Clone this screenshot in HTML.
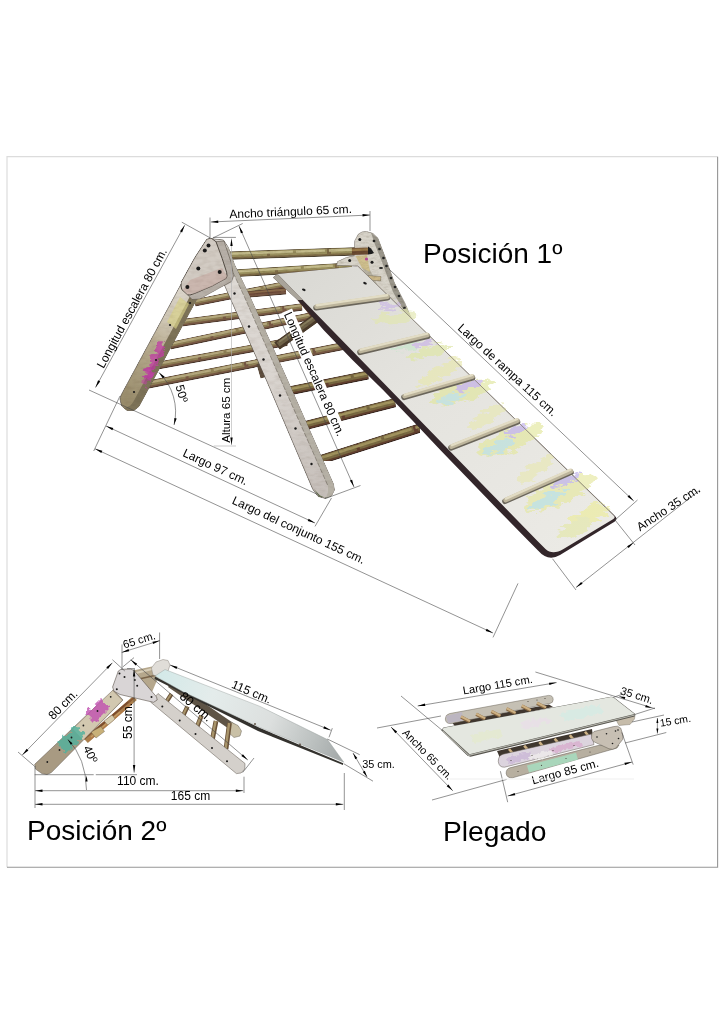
<!DOCTYPE html>
<html><head><meta charset="utf-8"><title>Pikler</title>
<style>
html,body{margin:0;padding:0;background:#fff;}
svg{display:block;}
text{font-family:"Liberation Sans",sans-serif;fill:#000;}
</style></head><body>
<svg width="724" height="1024" viewBox="0 0 724 1024">
<defs>
<linearGradient id="rampg" x1="0" y1="0" x2="1" y2="1">
<stop offset="0" stop-color="#d9d8d3"/><stop offset="0.4" stop-color="#e4e3de"/><stop offset="1" stop-color="#ecebe6"/>
</linearGradient>
<filter id="rough" x="-10%" y="-10%" width="120%" height="120%">
<feTurbulence type="fractalNoise" baseFrequency="0.09 0.25" numOctaves="3" seed="7" result="n"/>
<feDisplacementMap in="SourceGraphic" in2="n" scale="14" xChannelSelector="R" yChannelSelector="G"/>
</filter>
<filter id="rough2" x="-10%" y="-10%" width="120%" height="120%">
<feTurbulence type="fractalNoise" baseFrequency="0.2" numOctaves="2" seed="11" result="n"/>
<feDisplacementMap in="SourceGraphic" in2="n" scale="8" xChannelSelector="R" yChannelSelector="G"/>
</filter>
<linearGradient id="legL" gradientUnits="userSpaceOnUse" x1="188" y1="290" x2="127" y2="405">
<stop offset="0" stop-color="#dcd6cc"/><stop offset="0.28" stop-color="#d0c8b6"/><stop offset="0.5" stop-color="#b7ab8f"/><stop offset="1" stop-color="#988b6a"/>
</linearGradient>
<linearGradient id="ramp2" gradientUnits="userSpaceOnUse" x1="158" y1="672" x2="340" y2="752">
<stop offset="0" stop-color="#d3e9e8"/><stop offset="0.3" stop-color="#e4eceb"/><stop offset="0.62" stop-color="#dcdfde"/><stop offset="0.85" stop-color="#bcc1c0"/><stop offset="1" stop-color="#a6abab"/>
</linearGradient>
<filter id="wood" x="0" y="0" width="100%" height="100%" color-interpolation-filters="sRGB">
<feTurbulence type="fractalNoise" baseFrequency="0.18 0.5" numOctaves="3" seed="5" result="n"/>
<feColorMatrix in="n" type="matrix" values="0 0 0 0 0.78  0 0 0 0 0.76  0 0 0 0 0.72  0.8 0.45 0 0 -0.52" result="tint"/>
<feComposite in="tint" in2="SourceAlpha" operator="in" result="t2"/>
<feBlend in="t2" in2="SourceGraphic" mode="multiply" result="b"/>
<feComposite in="b" in2="SourceAlpha" operator="in"/>
</filter>
<linearGradient id="legR" gradientUnits="userSpaceOnUse" x1="225" y1="250" x2="325" y2="495">
<stop offset="0" stop-color="#dfdbd6"/><stop offset="0.5" stop-color="#dad5d0"/><stop offset="1" stop-color="#c6bfba"/>
</linearGradient>
<filter id="wood2" x="0" y="0" width="100%" height="100%" color-interpolation-filters="sRGB">
<feTurbulence type="fractalNoise" baseFrequency="0.12 0.3" numOctaves="2" seed="9" result="n"/>
<feColorMatrix in="n" type="matrix" values="0 0 0 0 0.8  0 0 0 0 0.77  0 0 0 0 0.74  0.55 0.3 0 0 -0.36" result="tint"/>
<feComposite in="tint" in2="SourceAlpha" operator="in" result="t2"/>
<feBlend in="t2" in2="SourceGraphic" mode="multiply" result="b"/>
<feComposite in="b" in2="SourceAlpha" operator="in"/>
</filter>
</defs>
<rect width="724" height="1024" fill="#fff"/>

<path d="M7,867.3 L7,156.7 L717.6,156.7" fill="none" stroke="#dcdcdc" stroke-width="1.2"/>
<path d="M7,867.3 L717.6,867.3 L717.6,156.7" fill="none" stroke="#969696" stroke-width="1.1"/>
<g id="pos1" filter="url(#wood)">
<line x1="226.0" y1="255.7" x2="367" y2="251" stroke="#4a4030" stroke-width="8.5" stroke-linecap="butt"/>
<line x1="226.0" y1="255.5" x2="367" y2="250.8" stroke="#7d6a46" stroke-width="7.1" stroke-linecap="butt"/>
<line x1="226.0" y1="254.7" x2="367" y2="250.0" stroke="#9a905e" stroke-width="5.10" stroke-linecap="butt" stroke-dasharray="41 3 57 4 23 2"/>
<line x1="226.0" y1="253.89999999999998" x2="367" y2="249.2" stroke="#c4bc8c" stroke-width="2.38" stroke-linecap="butt" stroke-dasharray="67 3 29 4"/>
<line x1="234.0" y1="273.4" x2="352" y2="266.3" stroke="#4a4030" stroke-width="7.9" stroke-linecap="butt"/>
<line x1="234.0" y1="273.2" x2="352" y2="266.1" stroke="#7d6a46" stroke-width="6.5" stroke-linecap="butt"/>
<line x1="234.0" y1="272.4" x2="352" y2="265.3" stroke="#9a905e" stroke-width="4.50" stroke-linecap="butt" stroke-dasharray="41 3 57 4 23 2"/>
<line x1="234.0" y1="271.59999999999997" x2="352" y2="264.5" stroke="#c4bc8c" stroke-width="2.21" stroke-linecap="butt" stroke-dasharray="67 3 29 4"/>
<line x1="194.8" y1="302.9" x2="287" y2="284.5" stroke="#46342a" stroke-width="7.5" stroke-linecap="butt"/>
<line x1="194.8" y1="302.7" x2="287" y2="284.3" stroke="#785844" stroke-width="6.1" stroke-linecap="butt"/>
<line x1="194.8" y1="301.9" x2="287" y2="283.5" stroke="#908156" stroke-width="4.10" stroke-linecap="butt" stroke-dasharray="41 3 57 4 23 2"/>
<line x1="194.8" y1="301.09999999999997" x2="287" y2="282.7" stroke="#b7ab80" stroke-width="2.10" stroke-linecap="butt" stroke-dasharray="67 3 29 4"/>
<line x1="240.0" y1="295.3" x2="286" y2="291.3" stroke="#46342a" stroke-width="6.4" stroke-linecap="butt"/>
<line x1="240.0" y1="295.1" x2="286" y2="291.1" stroke="#785844" stroke-width="5.0" stroke-linecap="butt"/>
<line x1="240.0" y1="294.3" x2="286" y2="290.3" stroke="#6d4a3a" stroke-width="3.00" stroke-linecap="butt" stroke-dasharray="41 3 57 4 23 2"/>
<line x1="240.0" y1="293.5" x2="286" y2="289.5" stroke="#8a6a4a" stroke-width="1.79" stroke-linecap="butt" stroke-dasharray="67 3 29 4"/>
<line x1="182.1" y1="322.8" x2="302" y2="307" stroke="#46342a" stroke-width="7.6000000000000005" stroke-linecap="butt"/>
<line x1="182.1" y1="322.6" x2="302" y2="306.8" stroke="#785844" stroke-width="6.200000000000001" stroke-linecap="butt"/>
<line x1="182.1" y1="321.8" x2="302" y2="306.0" stroke="#908156" stroke-width="4.20" stroke-linecap="butt" stroke-dasharray="41 3 57 4 23 2"/>
<line x1="182.1" y1="321.0" x2="302" y2="305.2" stroke="#b7ab80" stroke-width="2.13" stroke-linecap="butt" stroke-dasharray="67 3 29 4"/>
<line x1="170.1" y1="345.7" x2="311" y2="316" stroke="#46342a" stroke-width="7.7" stroke-linecap="butt"/>
<line x1="170.1" y1="345.5" x2="311" y2="315.8" stroke="#785844" stroke-width="6.300000000000001" stroke-linecap="butt"/>
<line x1="170.1" y1="344.7" x2="311" y2="315.0" stroke="#908156" stroke-width="4.30" stroke-linecap="butt" stroke-dasharray="41 3 57 4 23 2"/>
<line x1="170.1" y1="343.9" x2="311" y2="314.2" stroke="#b7ab80" stroke-width="2.16" stroke-linecap="butt" stroke-dasharray="67 3 29 4"/>
<line x1="157.6" y1="365.6" x2="287" y2="342" stroke="#46342a" stroke-width="7.9" stroke-linecap="butt"/>
<line x1="157.6" y1="365.40000000000003" x2="287" y2="341.8" stroke="#785844" stroke-width="6.5" stroke-linecap="butt"/>
<line x1="157.6" y1="364.6" x2="287" y2="341.0" stroke="#908156" stroke-width="4.50" stroke-linecap="butt" stroke-dasharray="41 3 57 4 23 2"/>
<line x1="157.6" y1="363.8" x2="287" y2="340.2" stroke="#b7ab80" stroke-width="2.21" stroke-linecap="butt" stroke-dasharray="67 3 29 4"/>
<line x1="145.1" y1="385.2" x2="346" y2="345.5" stroke="#46342a" stroke-width="8.1" stroke-linecap="butt"/>
<line x1="145.1" y1="385.0" x2="346" y2="345.3" stroke="#785844" stroke-width="6.699999999999999" stroke-linecap="butt"/>
<line x1="145.1" y1="384.2" x2="346" y2="344.5" stroke="#908156" stroke-width="4.70" stroke-linecap="butt" stroke-dasharray="41 3 57 4 23 2"/>
<line x1="145.1" y1="383.4" x2="346" y2="343.7" stroke="#b7ab80" stroke-width="2.27" stroke-linecap="butt" stroke-dasharray="67 3 29 4"/>
<line x1="285.1" y1="391.7" x2="368" y2="375" stroke="#33241e" stroke-width="9.1" stroke-linecap="butt"/>
<line x1="285.1" y1="391.5" x2="368" y2="374.8" stroke="#63402f" stroke-width="7.699999999999999" stroke-linecap="butt"/>
<line x1="285.1" y1="390.7" x2="368" y2="374.0" stroke="#7a6a42" stroke-width="5.70" stroke-linecap="butt" stroke-dasharray="41 3 57 4 23 2"/>
<line x1="285.1" y1="389.9" x2="368" y2="373.2" stroke="#a39560" stroke-width="2.55" stroke-linecap="butt" stroke-dasharray="67 3 29 4"/>
<line x1="301.7" y1="426.5" x2="395" y2="402.7" stroke="#33241e" stroke-width="9.3" stroke-linecap="butt"/>
<line x1="301.7" y1="426.3" x2="395" y2="402.5" stroke="#63402f" stroke-width="7.9" stroke-linecap="butt"/>
<line x1="301.7" y1="425.5" x2="395" y2="401.7" stroke="#7a6a42" stroke-width="5.90" stroke-linecap="butt" stroke-dasharray="41 3 57 4 23 2"/>
<line x1="301.7" y1="424.7" x2="395" y2="400.9" stroke="#a39560" stroke-width="2.60" stroke-linecap="butt" stroke-dasharray="67 3 29 4"/>
<line x1="317.3" y1="460.8" x2="420" y2="428" stroke="#33241e" stroke-width="9.5" stroke-linecap="butt"/>
<line x1="317.3" y1="460.6" x2="420" y2="427.8" stroke="#63402f" stroke-width="8.1" stroke-linecap="butt"/>
<line x1="317.3" y1="459.8" x2="420" y2="427.0" stroke="#7a6a42" stroke-width="6.10" stroke-linecap="butt" stroke-dasharray="41 3 57 4 23 2"/>
<line x1="317.3" y1="459.0" x2="420" y2="426.2" stroke="#a39560" stroke-width="2.66" stroke-linecap="butt" stroke-dasharray="67 3 29 4"/>
<polygon points="281.0,280.0 287.5,279.5 318.0,312.0 311.0,317.0" fill="#6b4336" stroke="none" stroke-width="0" stroke-linejoin="round" />
<line x1="277" y1="346" x2="316" y2="318" stroke="#4c3c2c" stroke-width="9.5"/>
<line x1="278" y1="344.5" x2="316" y2="317" stroke="#6f6248" stroke-width="5"/>
<line x1="279" y1="342" x2="316" y2="315.5" stroke="#8a8060" stroke-width="1.6"/>
<polygon points="256.5,364.5 262.5,361.5 267.0,377.0 260.5,378.5" fill="#5e4e3e" stroke="none" stroke-width="0" stroke-linejoin="round" />
<polygon points="336.6,265.5 337.4,261.4 346.5,257.3 354.2,255.6 354.6,240.7 358.2,234.1 362.0,231.8 366.4,231.3 373.0,233.3 378.0,238.2 386.3,259.8 394.6,283.0 405.0,302.9 412.0,319.5 380.0,300.0 358.0,266.0" fill="#d8d4ca" stroke="#5b5349" stroke-width="0.6" stroke-linejoin="round" />
<polygon points="371.0,232.5 378.0,238.0 386.3,259.8 394.6,283.0 404.6,302.9 411.5,319.5 404.0,311.0 393.0,292.0 382.0,262.0 374.0,242.0" fill="#9b978c" stroke="none" stroke-width="0" stroke-linejoin="round" />
<circle cx="359.8" cy="239.5" r="1.5" fill="#1a1a1a"/>
<circle cx="349.7" cy="260.5" r="1.5" fill="#1a1a1a"/>
<circle cx="372" cy="262.3" r="1.5" fill="#1a1a1a"/>
<circle cx="374" cy="241" r="1.35" fill="#222"/>
<circle cx="379.5" cy="249" r="1.35" fill="#222"/>
<circle cx="383.5" cy="258" r="1.35" fill="#222"/>
<circle cx="386.5" cy="266" r="1.35" fill="#222"/>
<circle cx="391" cy="278" r="1.35" fill="#222"/>
<circle cx="395" cy="287" r="1.35" fill="#222"/>
<circle cx="399" cy="296" r="1.35" fill="#222"/>
<circle cx="404.5" cy="308" r="1.35" fill="#222"/>
<polygon points="362.0,268.0 368.0,266.0 381.0,292.0 377.0,296.0" fill="#b9b4a4" stroke="none" stroke-width="0" stroke-linejoin="round" />
<polygon points="355.5,256.0 367.0,255.0 370.0,272.0 362.0,268.0" fill="#cfc08e" stroke="none" stroke-width="0" stroke-linejoin="round" />
<circle cx="366.5" cy="259" r="1.6" fill="#b84a9a"/>
<line x1="352" y1="251.5" x2="368" y2="250.9" stroke="#6a4a30" stroke-width="7"/>
<line x1="352" y1="250" x2="368" y2="249.4" stroke="#9a7a48" stroke-width="2.4"/>
<polygon points="368.0,246.5 371.0,248.5 374.0,253.0 371.5,254.0 368.0,254.5" fill="#1c1c1c" stroke="none" stroke-width="0" stroke-linejoin="round" />
<polygon points="368.0,275.5 381.0,276.5 380.5,281.0 370.0,280.0" fill="#cdb98a" stroke="#5b5349" stroke-width="0.4" stroke-linejoin="round" />
</g><g id="pos1ramp">
<path d="M273,277.5 L297.6,300 L323.6,330 L352.5,360 L383.1,390 L412,420 L440.3,450 L469.3,480 L498.2,510 L527.6,540 L538,550.5 Q548,562 560,555 L614.5,521.8 Q618.5,519 614.5,515.5 L358,266.3 L277.5,274 Z" fill="#33262a"/>
<path d="M277.5,274 L358,266.3 L613.5,515.3 Q616,517.6 613,519.2 L563.5,549 Q552.5,555.5 545.5,549 L536.5,540 Z" fill="url(#rampg)"/>
<path d="M273,277.5 L297.6,300 L303,300 L277.5,274 Z" fill="#a9a49a"/>
<g opacity="0.68" filter="url(#rough)">
<ellipse cx="428" cy="352" rx="22.0" ry="5.5" fill="#dfe6a6" transform="rotate(-14 428 352)"/>
<ellipse cx="408" cy="346" rx="15.4" ry="4.4" fill="#c8e6cc" transform="rotate(-12 408 346)"/>
<ellipse cx="424" cy="343" rx="9.9" ry="3.3" fill="#c9b3e6" transform="rotate(-14 424 343)"/>
<ellipse cx="462" cy="392" rx="32.4" ry="9.5" fill="#e1e6a0" transform="rotate(-18 462 392)"/>
<ellipse cx="470" cy="385" rx="12.1" ry="3.9" fill="#c2aee6" transform="rotate(-18 470 385)"/>
<ellipse cx="452" cy="398" rx="15.4" ry="4.4" fill="#b9e2de" transform="rotate(-18 452 398)"/>
<ellipse cx="440" cy="372" rx="24.3" ry="6.8" fill="#e8e8b0" transform="rotate(-30 440 372)"/>
<ellipse cx="510" cy="440" rx="35.1" ry="10.8" fill="#e4e8a0" transform="rotate(-22 510 440)"/>
<ellipse cx="516" cy="430" rx="13.2" ry="4.4" fill="#bfaee8" transform="rotate(-22 516 430)"/>
<ellipse cx="498" cy="447" rx="17.6" ry="5.5" fill="#b8e0dc" transform="rotate(-22 498 447)"/>
<ellipse cx="486" cy="418" rx="21.6" ry="6.8" fill="#e8e8b4" transform="rotate(-35 486 418)"/>
<ellipse cx="560" cy="492" rx="37.8" ry="12.2" fill="#e6e8a2" transform="rotate(-24 560 492)"/>
<ellipse cx="566" cy="480" rx="15.4" ry="5.0" fill="#bcaee8" transform="rotate(-24 566 480)"/>
<ellipse cx="548" cy="500" rx="19.8" ry="5.5" fill="#b6e0de" transform="rotate(-24 548 500)"/>
<ellipse cx="535" cy="470" rx="21.6" ry="6.8" fill="#e8e8b4" transform="rotate(-35 535 470)"/>
<ellipse cx="590" cy="515" rx="21.6" ry="8.1" fill="#ecec9c" transform="rotate(-25 590 515)"/>
<ellipse cx="575" cy="528" rx="18.9" ry="6.8" fill="#e4e8aa" transform="rotate(-25 575 528)"/>
<ellipse cx="395" cy="318" rx="21.6" ry="5.4" fill="#e2e6b0" transform="rotate(-10 395 318)"/>
<ellipse cx="390" cy="306" rx="11.0" ry="3.3" fill="#cbb8e6" transform="rotate(-10 390 306)"/>
</g>
<path d="M358,266.3 L614,515.5" fill="none" stroke="#8e887c" stroke-width="0.8"/>
<line x1="316" y1="307.8" x2="387.5" y2="297.8" stroke="#6a655a" stroke-width="5.6" stroke-linecap="round"/>
<line x1="316.5" y1="306.6" x2="387.5" y2="296.6" stroke="#bdb59c" stroke-width="4.6" stroke-linecap="round"/>
<line x1="317" y1="305.2" x2="387.0" y2="295.2" stroke="#e2dcc4" stroke-width="2.4" stroke-linecap="round"/>
<line x1="360" y1="352.3" x2="427.5" y2="336.3" stroke="#6a655a" stroke-width="5.6" stroke-linecap="round"/>
<line x1="360.5" y1="351.1" x2="427.5" y2="335.1" stroke="#bdb59c" stroke-width="4.6" stroke-linecap="round"/>
<line x1="361" y1="349.7" x2="427.0" y2="333.7" stroke="#e2dcc4" stroke-width="2.4" stroke-linecap="round"/>
<line x1="404" y1="397.3" x2="472.5" y2="377.8" stroke="#6a655a" stroke-width="5.6" stroke-linecap="round"/>
<line x1="404.5" y1="396.1" x2="472.5" y2="376.6" stroke="#bdb59c" stroke-width="4.6" stroke-linecap="round"/>
<line x1="405" y1="394.7" x2="472.0" y2="375.2" stroke="#e2dcc4" stroke-width="2.4" stroke-linecap="round"/>
<line x1="451" y1="447.8" x2="517.5" y2="421.8" stroke="#6a655a" stroke-width="5.6" stroke-linecap="round"/>
<line x1="451.5" y1="446.6" x2="517.5" y2="420.6" stroke="#bdb59c" stroke-width="4.6" stroke-linecap="round"/>
<line x1="452" y1="445.2" x2="517.0" y2="419.2" stroke="#e2dcc4" stroke-width="2.4" stroke-linecap="round"/>
<line x1="505" y1="501.3" x2="571" y2="472.3" stroke="#6a655a" stroke-width="5.6" stroke-linecap="round"/>
<line x1="505.5" y1="500.1" x2="571" y2="471.1" stroke="#bdb59c" stroke-width="4.6" stroke-linecap="round"/>
<line x1="506" y1="498.7" x2="570.5" y2="469.7" stroke="#e2dcc4" stroke-width="2.4" stroke-linecap="round"/>
<ellipse cx="303.8" cy="289.8" rx="1.9" ry="1.1" fill="#1c1c1c" transform="rotate(25 303.8 289.8)"/>
<ellipse cx="365" cy="283.2" rx="1.9" ry="1.1" fill="#1c1c1c" transform="rotate(25 365 283.2)"/>
<ellipse cx="381" cy="268" rx="2" ry="0.9" fill="#222"/>
</g><g id="pos1b" filter="url(#wood2)">
<polygon points="211.6,238.6 223.5,239.9 228.4,247.3 234.6,264.7 249.6,295.8 287.5,380.0 333.5,484.0 334.5,490.0 331.5,496.0 325.0,498.5 318.0,496.5 312.5,489.0 266.2,380.0 224.7,286.0 214.0,260.0" fill="url(#legR)" stroke="#4f4840" stroke-width="0.8" stroke-linejoin="round" />
<polygon points="228.4,247.3 234.6,264.7 249.6,295.8 287.5,380.0 333.5,484.0 334.5,490.0 331.5,496.0 326.0,498.0 328.0,492.0 328.0,486.0 281.5,381.5 244.5,297.0 230.0,266.0 225.0,248.0" fill="#b6b1a6" stroke="none" stroke-width="0" stroke-linejoin="round" />
<path d="M225,248 L230,266 L244.5,297 L281.5,381.5 L328,486" fill="none" stroke="#6d675c" stroke-width="0.6" stroke-dasharray="5 1.5"/>
<polygon points="314.0,489.0 320.0,495.5 326.0,498.0 331.0,496.0 327.0,497.5 319.0,496.8" fill="#5f6a4a" stroke="none" stroke-width="0" stroke-linejoin="round" />
<circle cx="234.5" cy="293.5" r="1.2" fill="#1a1a1a"/>
<circle cx="249" cy="326.5" r="1.2" fill="#1a1a1a"/>
<circle cx="263.5" cy="359.5" r="1.2" fill="#1a1a1a"/>
<circle cx="280" cy="395.5" r="1.2" fill="#1a1a1a"/>
<circle cx="295.5" cy="428.5" r="1.2" fill="#1a1a1a"/>
<circle cx="311.5" cy="464" r="1.2" fill="#1a1a1a"/>
<polygon points="181.0,284.0 197.5,298.0 139.0,406.5 134.0,410.5 127.0,410.5 121.5,406.0 119.8,399.0 121.0,395.0" fill="url(#legL)" stroke="#4f4840" stroke-width="0.8" stroke-linejoin="round" />
<polygon points="191.5,293.5 197.5,298.0 139.0,406.5 134.0,410.5 127.0,410.5 124.0,408.5 130.5,405.5 133.5,401.5" fill="#7d7358" stroke="none" stroke-width="0" stroke-linejoin="round" />
<polygon points="180.0,297.0 189.0,304.0 176.0,329.0 167.0,322.0" fill="#d9d28a" stroke="none" stroke-width="0" stroke-linejoin="round" opacity="0.7"/>
<g filter="url(#rough)">
<polygon points="160.0,342.0 166.0,347.0 150.0,378.0 144.0,373.0" fill="#c13ea6" stroke="none" stroke-width="0" stroke-linejoin="round" opacity="0.75"/>
<polygon points="150.0,366.0 155.0,370.0 146.0,388.0 141.0,384.0" fill="#c13ea6" stroke="none" stroke-width="0" stroke-linejoin="round" opacity="0.55"/>
</g>
<circle cx="190" cy="303" r="1.1" fill="#1a1a1a"/>
<circle cx="170" cy="325" r="1.1" fill="#1a1a1a"/>
<circle cx="156" cy="360" r="1.1" fill="#1a1a1a"/>
<circle cx="134" cy="392" r="1.1" fill="#1a1a1a"/>
<polygon points="216.0,241.7 224.0,241.0 231.0,262.0 233.5,276.0 231.5,281.5 200.0,299.0 192.0,299.5 187.4,294.6 226.0,278.4" fill="#b7b0a8" stroke="#5b5349" stroke-width="0.6" stroke-linejoin="round" />
<polygon points="206.7,239.2 211.0,238.0 216.0,241.7 222.2,258.5 226.6,272.2 227.0,276.0 226.0,278.4 212.3,285.9 194.9,293.3 190.0,295.0 187.4,294.6 181.8,289.6 181.0,286.0 181.2,282.1 194.9,257.3" fill="#d2cbc3" stroke="#453e37" stroke-width="0.9" stroke-linejoin="round" />
<polygon points="190.0,280.0 222.0,268.0 227.0,276.0 226.0,278.4 212.3,285.9 194.9,293.3 187.4,294.6 183.0,290.0" fill="#c8aea6" stroke="none" stroke-width="0" stroke-linejoin="round" opacity="0.7"/>
<circle cx="208.5" cy="245.5" r="2.0" fill="#1a1a1a"/>
<circle cx="204.8" cy="250.4" r="2.0" fill="#1a1a1a"/>
<circle cx="198.3" cy="268.5" r="2.0" fill="#1a1a1a"/>
<circle cx="219.7" cy="272" r="2.0" fill="#1a1a1a"/>
<circle cx="187.4" cy="287.1" r="2.0" fill="#1a1a1a"/>
</g>
<g id="dim1">
<line x1="210.8" y1="222" x2="370" y2="215" stroke="#4a4a4a" stroke-width="0.6" />
<polygon points="210.8,222.0 218.2,220.5 218.3,222.9" fill="#000"/>
<polygon points="370.0,215.0 362.6,216.5 362.5,214.1" fill="#000"/>
<line x1="210" y1="217.5" x2="210" y2="238.5" stroke="#4a4a4a" stroke-width="0.6" />
<line x1="370" y1="211" x2="370" y2="231" stroke="#4a4a4a" stroke-width="0.6" />
<text x="229.5" y="218.3" font-size="12" text-anchor="start" transform="rotate(-2.5 229.5 218.3)" >Ancho triángulo 65 cm.</text>
<line x1="181.8" y1="222.2" x2="210.4" y2="238" stroke="#4a4a4a" stroke-width="0.6" />
<line x1="212.9" y1="238" x2="242.7" y2="223.5" stroke="#4a4a4a" stroke-width="0.6" />
<line x1="212.9" y1="237.4" x2="235.9" y2="237.4" stroke="#4a4a4a" stroke-width="0.6" />
<line x1="184.7" y1="225.2" x2="95.5" y2="387.5" stroke="#4a4a4a" stroke-width="0.6" />
<polygon points="184.7,225.2 182.1,232.4 180.0,231.2" fill="#000"/>
<polygon points="95.5,387.5 98.1,380.3 100.2,381.5" fill="#000"/>
<text x="103.5" y="369" font-size="12" text-anchor="start" transform="rotate(-61.6 103.5 369)" >Longitud escalera 80 cm.</text>
<line x1="231.5" y1="238.6" x2="231.5" y2="445" stroke="#b0b0b0" stroke-width="0.6" />
<polygon points="231.5,238.6 232.7,246.1 230.3,246.1" fill="#000"/>
<polygon points="231.5,445.0 230.3,437.5 232.7,437.5" fill="#000"/>
<line x1="213.8" y1="446" x2="236" y2="446" stroke="#b5b5b5" stroke-width="0.7" />
<text x="230.4" y="442.8" font-size="11.6" text-anchor="start" transform="rotate(-90 230.4 442.8)" >Altura 65 cm</text>
<line x1="239" y1="226" x2="354" y2="487" stroke="#4a4a4a" stroke-width="0.6" />
<polygon points="239.0,226.0 243.1,232.4 240.9,233.3" fill="#000"/>
<polygon points="354.0,487.0 349.9,480.6 352.1,479.7" fill="#000"/>
<line x1="325" y1="498.7" x2="360.5" y2="485.5" stroke="#4a4a4a" stroke-width="0.6" />
<g transform="rotate(66.3 283.7 314.3)"><rect x="281.7" y="304.3" width="138" height="11.5" fill="#fff"/></g>
<text x="283.7" y="314.3" font-size="12" text-anchor="start" transform="rotate(66.3 283.7 314.3)" >Longitud escalera 80 cm.</text>
<line x1="89" y1="390" x2="317.5" y2="494.4" stroke="#4a4a4a" stroke-width="0.6" />
<line x1="106" y1="426" x2="315" y2="523" stroke="#4a4a4a" stroke-width="0.6" />
<polygon points="106.0,426.0 113.3,428.1 112.3,430.2" fill="#000"/>
<polygon points="315.0,523.0 307.7,520.9 308.7,518.8" fill="#000"/>
<line x1="120" y1="396" x2="93.7" y2="451" stroke="#4a4a4a" stroke-width="0.6" />
<line x1="331.5" y1="498" x2="315" y2="526.4" stroke="#4a4a4a" stroke-width="0.6" />
<text x="182" y="455.8" font-size="12" text-anchor="start" transform="rotate(24.9 182 455.8)" >Largo 97 cm.</text>
<line x1="95" y1="448.75" x2="493" y2="633" stroke="#4a4a4a" stroke-width="0.6" />
<polygon points="95.0,448.8 102.3,450.8 101.3,453.0" fill="#000"/>
<polygon points="493.0,633.0 485.7,630.9 486.7,628.8" fill="#000"/>
<line x1="518" y1="583.4" x2="493" y2="637.4" stroke="#4a4a4a" stroke-width="0.6" />
<text x="231.3" y="503.3" font-size="12" text-anchor="start" transform="rotate(24.84 231.3 503.3)" >Largo del conjunto 155 cm.</text>
<path d="M159,372.5 A55,55 0 0 1 174,425" fill="none" stroke="#4a4a4a" stroke-width="0.6"/>
<polygon points="159.0,372.5 164.7,376.7 162.8,378.5" fill="#000"/>
<polygon points="174.0,425.0 174.4,417.9 176.7,418.4" fill="#000"/>
<text x="175.5" y="386" font-size="12" text-anchor="start" transform="rotate(75 175.5 386)" >50º</text>
<line x1="388.8" y1="268.9" x2="633.75" y2="501" stroke="#4a4a4a" stroke-width="0.6" />
<polygon points="633.8,501.0 627.5,496.7 629.1,495.0" fill="#000"/>
<line x1="615" y1="520" x2="637.5" y2="500" stroke="#4a4a4a" stroke-width="0.6" />
<text x="457" y="329" font-size="12" text-anchor="start" transform="rotate(42.6 457 329)" >Largo de rampa 115 cm.</text>
<line x1="576" y1="587.5" x2="700" y2="490" stroke="#4a4a4a" stroke-width="0.6" />
<polygon points="576.0,587.5 581.1,581.9 582.6,583.8" fill="#000"/>
<polygon points="633.8,542.5 628.6,548.1 627.1,546.2" fill="#000"/>
<line x1="552.5" y1="558.75" x2="576" y2="590" stroke="#4a4a4a" stroke-width="0.6" />
<line x1="615" y1="520" x2="635" y2="545" stroke="#4a4a4a" stroke-width="0.6" />
<text x="640" y="531.5" font-size="12" text-anchor="start" transform="rotate(-33.3 640 531.5)" >Ancho 35 cm.</text>
</g>
<text x="423" y="263" font-size="28" text-anchor="start" transform="rotate(0 423 263)" >Posición 1º</text>
<g id="pos2">
<line x1="86" y1="741" x2="135" y2="698" stroke="#a8804f" stroke-width="5.5"/>
<line x1="84" y1="739" x2="136" y2="696" stroke="#8a5a34" stroke-width="2.2"/>
<line x1="88" y1="741" x2="132" y2="703" stroke="#b07a48" stroke-width="1.8"/>
<line x1="95" y1="731" x2="128" y2="702" stroke="#7a4a2c" stroke-width="1.6"/>
<line x1="91" y1="737" x2="120" y2="712" stroke="#c49a62" stroke-width="1.4"/>
<polygon points="91.0,732.0 101.0,726.5 104.5,731.5 96.0,738.0" fill="#c8b078" stroke="#5b5349" stroke-width="0.4" stroke-linejoin="round" />
<polygon points="104.0,721.0 112.0,715.0 115.0,719.0 108.0,725.0" fill="#d8ceb0" stroke="#5b5349" stroke-width="0.3" stroke-linejoin="round" />
<polygon points="133.0,670.5 152.0,666.5 159.0,676.0 152.0,692.0 141.0,681.0" fill="#b5a78c" stroke="none" stroke-width="0" stroke-linejoin="round" />
<line x1="136" y1="673" x2="156" y2="668" stroke="#d8ceb8" stroke-width="2.2"/>
<line x1="139" y1="679" x2="157" y2="675" stroke="#7a644a" stroke-width="1.6"/>
<polygon points="151.4,668.0 156.0,662.0 163.0,659.5 168.0,660.5 170.0,665.0 168.0,671.0 160.0,677.0 153.0,675.0" fill="#e0ddd8" stroke="#8a857c" stroke-width="0.5" stroke-linejoin="round" />
<line x1="170" y1="684" x2="237" y2="730" stroke="#5e5446" stroke-width="7"/>
<polygon points="231.0,722.0 238.0,725.5 241.5,731.0 240.0,736.0 234.0,737.5 229.0,733.0" fill="#c9c0a6" stroke="#6a6458" stroke-width="0.5" stroke-linejoin="round" />
<line x1="171.5" y1="694" x2="167" y2="701" stroke="#6a5238" stroke-width="4.2"/>
<line x1="171.1" y1="694" x2="166.6" y2="701" stroke="#a8946a" stroke-width="1.8000000000000003"/>
<line x1="187.5" y1="706.5" x2="182.5" y2="717" stroke="#6a5238" stroke-width="4.4"/>
<line x1="187.1" y1="706.5" x2="182.1" y2="717" stroke="#a8946a" stroke-width="2.0"/>
<line x1="201.5" y1="715.5" x2="197" y2="727" stroke="#6a5238" stroke-width="4.6"/>
<line x1="201.1" y1="715.5" x2="196.6" y2="727" stroke="#a8946a" stroke-width="2.2"/>
<line x1="216" y1="721" x2="211.5" y2="744" stroke="#6a5238" stroke-width="4.8"/>
<line x1="215.6" y1="721" x2="211.1" y2="744" stroke="#a8946a" stroke-width="2.4"/>
<line x1="229.5" y1="723" x2="226" y2="749" stroke="#6a5238" stroke-width="4.8"/>
<line x1="229.1" y1="723" x2="225.6" y2="749" stroke="#a8946a" stroke-width="2.4"/>
<polygon points="155.0,676.5 260.0,728.0 343.2,763.3 343.0,765.0 258.0,731.0 154.5,679.0" fill="#34322e" stroke="none" stroke-width="0" stroke-linejoin="round" />
<polygon points="155.0,676.0 165.0,669.5 260.0,706.4 327.5,739.6 343.8,762.2 260.0,727.5 183.0,691.8" fill="url(#ramp2)" stroke="#8f9896" stroke-width="0.4" stroke-linejoin="round" />
<circle cx="255" cy="724" r="0.9" fill="#5a4a3a"/>
<circle cx="300" cy="744.5" r="0.9" fill="#5a4a3a"/>
<polygon points="34.7,764.3 113.4,689.7 123.0,700.0 51.3,772.6 47.0,774.5 41.9,773.6 35.5,769.0" fill="#a89a82" stroke="#5b5349" stroke-width="0.5" stroke-linejoin="round" />
<polygon points="73.0,729.0 112.5,690.8 122.0,700.3 83.0,740.0" fill="#d2c8b0" stroke="none" stroke-width="0" stroke-linejoin="round" />
<g filter="url(#rough2)">
<polygon points="85.0,714.0 101.0,699.0 110.0,707.0 94.0,723.0" fill="#c050b0" stroke="none" stroke-width="0" stroke-linejoin="round" opacity="0.8"/>
<polygon points="57.0,743.0 75.0,726.0 85.0,735.0 67.0,753.0" fill="#4fb09c" stroke="none" stroke-width="0" stroke-linejoin="round" opacity="0.8"/>
</g>
<circle cx="47.3" cy="762" r="0.9" fill="#1a1a1a"/>
<circle cx="59.5" cy="750" r="0.9" fill="#1a1a1a"/>
<circle cx="71.5" cy="737.5" r="0.9" fill="#1a1a1a"/>
<circle cx="83.4" cy="725.5" r="0.9" fill="#1a1a1a"/>
<circle cx="97.5" cy="711" r="0.9" fill="#1a1a1a"/>
<circle cx="110.7" cy="696.8" r="0.9" fill="#1a1a1a"/>
<polygon points="150.5,702.0 158.0,693.5 245.0,763.5 244.8,769.0 241.0,773.0 236.4,773.6" fill="#d4d0cb" stroke="#5b5349" stroke-width="0.5" stroke-linejoin="round" />
<circle cx="162.3" cy="706.5" r="1.0" fill="#1a1a1a"/>
<circle cx="179.7" cy="720.6" r="1.0" fill="#1a1a1a"/>
<circle cx="195.5" cy="733.9" r="1.0" fill="#1a1a1a"/>
<circle cx="212" cy="748" r="1.0" fill="#1a1a1a"/>
<circle cx="227" cy="761.2" r="1.0" fill="#1a1a1a"/>
<polygon points="118.3,671.0 121.0,669.3 130.7,669.0 134.0,670.5 156.6,697.0 157.2,700.0 153.5,702.3 120.0,694.5 114.0,691.2 112.6,687.0" fill="#d9d5d6" stroke="#5b5349" stroke-width="0.6" stroke-linejoin="round" />
<circle cx="119.5" cy="673.5" r="1.0" fill="#1a1a1a"/>
<circle cx="124.5" cy="677" r="1.0" fill="#1a1a1a"/>
<circle cx="116.8" cy="689.3" r="1.0" fill="#1a1a1a"/>
<circle cx="137.2" cy="685.8" r="1.0" fill="#1a1a1a"/>
<circle cx="134.8" cy="680" r="1.0" fill="#1a1a1a"/>
<circle cx="151.5" cy="697" r="1.0" fill="#1a1a1a"/>
</g>
<g id="dim2">
<line x1="22.3" y1="755" x2="112.4" y2="662.8" stroke="#4a4a4a" stroke-width="0.6" />
<polygon points="22.3,755.0 26.7,748.8 28.4,750.5" fill="#000"/>
<polygon points="112.4,662.8 108.0,669.0 106.3,667.3" fill="#000"/>
<line x1="18" y1="752" x2="34.7" y2="766.4" stroke="#4a4a4a" stroke-width="0.6" />
<line x1="112.4" y1="659.7" x2="124.8" y2="671" stroke="#4a4a4a" stroke-width="0.6" />
<text x="63.7" y="705.3" font-size="12" text-anchor="middle" transform="rotate(-45.6 63.7 705.3)" dy="3">80 cm.</text>
<line x1="121.7" y1="652.4" x2="160" y2="640.6" stroke="#4a4a4a" stroke-width="0.6" />
<polygon points="121.7,652.4 128.5,649.0 129.2,651.3" fill="#000"/>
<polygon points="160.0,640.6 153.2,644.0 152.5,641.7" fill="#000"/>
<line x1="122" y1="644.5" x2="122" y2="670" stroke="#4a4a4a" stroke-width="0.6" />
<line x1="159.6" y1="632.5" x2="159.6" y2="659" stroke="#4a4a4a" stroke-width="0.6" />
<text x="140.3" y="643.6" font-size="11.1" text-anchor="middle" transform="rotate(-17 140.3 643.6)" >65 cm.</text>
<line x1="134.1" y1="669" x2="134.1" y2="772.6" stroke="#4a4a4a" stroke-width="0.6" />
<polygon points="134.1,669.0 135.3,676.5 132.9,676.5" fill="#000"/>
<polygon points="134.1,772.6 132.9,765.1 135.3,765.1" fill="#000"/>
<line x1="127" y1="668.6" x2="135" y2="668.6" stroke="#4a4a4a" stroke-width="0.6" />
<text x="132" y="721" font-size="12" text-anchor="middle" transform="rotate(-90 132 721)" >55 cm.</text>
<line x1="34.7" y1="774.7" x2="93.7" y2="774.7" stroke="#4a4a4a" stroke-width="0.6" />
<line x1="95.8" y1="774.7" x2="137" y2="774.7" stroke="#4a4a4a" stroke-width="0.6" />
<path d="M67.8,739.4 Q86,758 86.5,790" fill="none" stroke="#4a4a4a" stroke-width="0.6"/>
<polygon points="67.8,739.4 72.5,743.3 70.8,744.7" fill="#000"/>
<polygon points="86.5,775.5 87.6,781.5 85.4,781.5" fill="#000"/>
<text x="83" y="748" font-size="12" text-anchor="start" transform="rotate(65 83 748)" >40º</text>
<line x1="35" y1="790.7" x2="243.3" y2="790.7" stroke="#4a4a4a" stroke-width="0.6" />
<polygon points="35.0,790.7 42.5,789.5 42.5,791.9" fill="#000"/>
<polygon points="243.3,790.7 235.8,791.9 235.8,789.5" fill="#000"/>
<text x="138" y="785" font-size="12" text-anchor="middle" transform="rotate(0 138 785)" >110 cm.</text>
<line x1="244" y1="776.7" x2="244" y2="793" stroke="#4a4a4a" stroke-width="0.6" />
<line x1="35" y1="804.3" x2="343.3" y2="804.3" stroke="#4a4a4a" stroke-width="0.6" />
<polygon points="35.0,804.3 42.5,803.1 42.5,805.5" fill="#000"/>
<polygon points="343.3,804.3 335.8,805.5 335.8,803.1" fill="#000"/>
<text x="190.5" y="800.3" font-size="12" text-anchor="middle" transform="rotate(0 190.5 800.3)" >165 cm</text>
<line x1="35" y1="766" x2="35" y2="808" stroke="#4a4a4a" stroke-width="0.6" />
<line x1="344.3" y1="773" x2="344.3" y2="810" stroke="#4a4a4a" stroke-width="0.6" />
<line x1="130.7" y1="659.7" x2="247.8" y2="760" stroke="#4a4a4a" stroke-width="0.6" />
<polygon points="130.7,659.7 137.2,663.7 135.6,665.5" fill="#000"/>
<polygon points="247.8,760.0 241.3,756.0 242.9,754.2" fill="#000"/>
<line x1="122.7" y1="667" x2="134" y2="657.6" stroke="#4a4a4a" stroke-width="0.6" />
<line x1="242.6" y1="772.6" x2="254" y2="758" stroke="#4a4a4a" stroke-width="0.6" />
<g transform="rotate(40.6 193 706)"><rect x="175" y="696" width="37" height="11" fill="#fff" opacity="0.0"/></g>
<text x="193.2" y="709.8" font-size="12.7" text-anchor="middle" transform="rotate(40.6 193.2 709.8)" >80 cm.</text>
<line x1="170" y1="665" x2="330.7" y2="730.2" stroke="#4a4a4a" stroke-width="0.6" />
<polygon points="170.0,665.0 177.4,666.7 176.5,668.9" fill="#000"/>
<polygon points="330.7,730.2 323.3,728.5 324.2,726.3" fill="#000"/>
<text x="250" y="695.7" font-size="12" text-anchor="middle" transform="rotate(22.9 250 695.7)" >115 cm.</text>
<line x1="332.3" y1="728.2" x2="329" y2="737.3" stroke="#4a4a4a" stroke-width="0.6" />
<line x1="353" y1="753" x2="367.1" y2="777" stroke="#4a4a4a" stroke-width="0.6" />
<polygon points="353.0,753.0 357.3,758.0 355.3,759.2" fill="#000"/>
<polygon points="367.1,777.0 362.8,772.0 364.8,770.8" fill="#000"/>
<line x1="327.3" y1="739" x2="359.7" y2="754.7" stroke="#4a4a4a" stroke-width="0.6" />
<line x1="343.9" y1="763.8" x2="373" y2="781.2" stroke="#4a4a4a" stroke-width="0.6" />
<text x="362.2" y="767.7" font-size="10.9" text-anchor="start" transform="rotate(0 362.2 767.7)" >35 cm.</text>
</g>
<text x="27" y="839.5" font-size="28" text-anchor="start" transform="rotate(0 27 839.5)" >Posición 2º</text>
<g id="pleg">
<polygon points="452.0,722.5 549.0,704.5 553.0,707.0 456.0,727.5" fill="#3f362e" stroke="none" stroke-width="0" stroke-linejoin="round" />
<path d="M449.5,713.6 L548.5,695.4 Q553,695.2 553.2,699.5 Q553.2,703 550,703.4 L451,723.6 Q445.6,723.8 445.3,719 Q445.4,714.6 449.5,713.6 Z" fill="#c5c0b4" stroke="#6f695f" stroke-width="0.5"/>
<polygon points="446.0,716.0 462.0,712.0 463.0,720.5 448.0,723.3" fill="#b9b3c4" stroke="none" stroke-width="0" stroke-linejoin="round" opacity="0.8"/>
<circle cx="528" cy="701.5" r="0.6" fill="#4a443c"/>
<circle cx="537" cy="700" r="0.6" fill="#4a443c"/>
<circle cx="545" cy="698.5" r="0.6" fill="#4a443c"/>
<line x1="461.0" y1="717.0" x2="470.0" y2="721.7" stroke="#8a6a44" stroke-width="3.4"/>
<line x1="461.0" y1="716.5" x2="470.0" y2="721.2" stroke="#cdb184" stroke-width="2"/>
<line x1="476.2" y1="714.25" x2="485.2" y2="718.95" stroke="#8a6a44" stroke-width="3.4"/>
<line x1="476.2" y1="713.75" x2="485.2" y2="718.45" stroke="#cdb184" stroke-width="2"/>
<line x1="491.4" y1="711.5" x2="500.4" y2="716.2" stroke="#8a6a44" stroke-width="3.4"/>
<line x1="491.4" y1="711.0" x2="500.4" y2="715.7" stroke="#cdb184" stroke-width="2"/>
<line x1="506.6" y1="708.75" x2="515.6" y2="713.45" stroke="#8a6a44" stroke-width="3.4"/>
<line x1="506.6" y1="708.25" x2="515.6" y2="712.95" stroke="#cdb184" stroke-width="2"/>
<line x1="521.8" y1="706.0" x2="530.8" y2="710.7" stroke="#8a6a44" stroke-width="3.4"/>
<line x1="521.8" y1="705.5" x2="530.8" y2="710.2" stroke="#cdb184" stroke-width="2"/>
<line x1="537.0" y1="703.25" x2="546.0" y2="707.95" stroke="#8a6a44" stroke-width="3.4"/>
<line x1="537.0" y1="702.75" x2="546.0" y2="707.45" stroke="#cdb184" stroke-width="2"/>
<polygon points="497.0,751.0 592.0,729.0 593.0,737.0 500.0,758.0" fill="#3f372f" stroke="none" stroke-width="0" stroke-linejoin="round" />
<line x1="509.0" y1="749.0" x2="514.5" y2="755.5" stroke="#cdb184" stroke-width="2.6"/>
<line x1="524.2" y1="745.55" x2="529.7" y2="752.05" stroke="#cdb184" stroke-width="2.6"/>
<line x1="539.4" y1="742.1" x2="544.9" y2="748.6" stroke="#cdb184" stroke-width="2.6"/>
<line x1="554.6" y1="738.65" x2="560.1" y2="745.15" stroke="#cdb184" stroke-width="2.6"/>
<line x1="569.8" y1="735.2" x2="575.3" y2="741.7" stroke="#cdb184" stroke-width="2.6"/>
<line x1="585.0" y1="731.75" x2="590.5" y2="738.25" stroke="#cdb184" stroke-width="2.6"/>
<path d="M510,767.8 L598,745.5 L619,745 L617,748 L512.5,777.8 Q507,778.3 506.2,773.5 Q506,769 510,767.8 Z" fill="#b7afa0" stroke="#5f594f" stroke-width="0.5"/>
<polygon points="527.0,765.5 576.0,752.8 578.0,759.5 529.0,772.5" fill="#a9d6bb" stroke="none" stroke-width="0" stroke-linejoin="round" />
<circle cx="518" cy="771.5" r="0.6" fill="#4a443c"/>
<circle cx="541.5" cy="765.3" r="0.6" fill="#4a443c"/>
<circle cx="566" cy="758.5" r="0.6" fill="#4a443c"/>
<circle cx="590" cy="752" r="0.6" fill="#4a443c"/>
<path d="M503,754.2 L591.5,734 L594,744.6 L504.5,767.2 Q499,767.5 498.3,761.5 Q498.2,755.6 503,754.2 Z" fill="#dcd4de" stroke="#5f594f" stroke-width="0.5"/>
<g filter="url(#rough2)" opacity="0.7">
<polygon points="505.0,757.0 530.0,752.0 532.0,758.0 507.0,764.0" fill="#c9b4d6" stroke="none" stroke-width="0" stroke-linejoin="round" />
<polygon points="548.0,748.0 580.0,741.0 582.0,746.0 550.0,754.0" fill="#d9a8cc" stroke="none" stroke-width="0" stroke-linejoin="round" />
<polygon points="528.0,756.0 552.0,751.0 553.0,755.0 530.0,760.0" fill="#f2f0ee" stroke="none" stroke-width="0" stroke-linejoin="round" />
</g>
<circle cx="511" cy="760.5" r="0.6" fill="#4a443c"/>
<circle cx="532" cy="755.5" r="0.6" fill="#4a443c"/>
<circle cx="553" cy="750.5" r="0.6" fill="#4a443c"/>
<circle cx="574" cy="745.5" r="0.6" fill="#4a443c"/>
<polygon points="616.0,720.0 635.0,715.0 634.5,719.0 630.0,724.5 619.0,725.5" fill="#c6bcaa" stroke="#6f695f" stroke-width="0.4" stroke-linejoin="round" />
<polygon points="441.2,730.2 443.5,727.6 611.0,696.8 613.8,697.2 635.6,714.2 634.5,716.6 470.5,756.8 467.5,755.8" fill="#55534c" stroke="none" stroke-width="0" stroke-linejoin="round" />
<polygon points="442.3,729.2 444.0,727.8 611.0,697.0 613.5,697.4 634.6,713.9 469.5,754.2" fill="#e4e7e0" stroke="none" stroke-width="0" stroke-linejoin="round" />
<path d="M442,730.4 L468.8,755.4 L634.8,715" fill="none" stroke="#b4b4ac" stroke-width="1.1"/>
<g opacity="0.55" filter="url(#rough2)">
<polygon points="560.0,712.0 600.0,704.0 604.0,712.0 566.0,722.0" fill="#cfeee6" stroke="none" stroke-width="0" stroke-linejoin="round" />
<polygon points="470.0,735.0 500.0,729.0 503.0,736.0 474.0,743.0" fill="#e4ecc8" stroke="none" stroke-width="0" stroke-linejoin="round" />
<polygon points="520.0,722.0 548.0,716.0 550.0,722.0 523.0,729.0" fill="#ecdcec" stroke="none" stroke-width="0" stroke-linejoin="round" />
</g>
<polygon points="591.8,733.8 594.0,731.5 613.5,726.6 617.5,726.2 620.8,728.2 623.2,736.0 622.6,739.5 616.0,748.0 612.5,749.3 609.0,748.8 593.5,741.6 591.5,738.5" fill="#c7bfb3" stroke="#5f594f" stroke-width="0.5" stroke-linejoin="round" />
<circle cx="597" cy="737" r="0.8" fill="#1a1a1a"/>
<circle cx="606.5" cy="733.8" r="0.8" fill="#1a1a1a"/>
<circle cx="615.5" cy="731" r="0.8" fill="#1a1a1a"/>
<circle cx="612.5" cy="743.5" r="0.8" fill="#1a1a1a"/>
<circle cx="618.5" cy="738.5" r="0.8" fill="#1a1a1a"/>
<circle cx="618" cy="730" r="0.8" fill="#1a1a1a"/>
</g>
<g id="dim3">
<line x1="417.7" y1="706" x2="556.6" y2="682.6" stroke="#4a4a4a" stroke-width="0.6" />
<polygon points="417.7,706.0 424.9,703.6 425.3,705.9" fill="#000"/>
<polygon points="556.6,682.6 549.4,685.0 549.0,682.7" fill="#000"/>
<text x="498.3" y="688.6" font-size="11.2" text-anchor="middle" transform="rotate(-9.6 498.3 688.6)" >Largo 115 cm.</text>
<line x1="401" y1="696" x2="443" y2="731" stroke="#4a4a4a" stroke-width="0.6" />
<line x1="377" y1="728" x2="441" y2="716" stroke="#4a4a4a" stroke-width="0.6" />
<line x1="535.4" y1="672" x2="655" y2="708.7" stroke="#4a4a4a" stroke-width="0.6" />
<polygon points="618.7,696.3 625.3,697.0 624.6,699.3" fill="#000"/>
<polygon points="651.8,708.0 645.2,707.3 645.9,705.0" fill="#000"/>
<text x="635.6" y="699" font-size="11.3" text-anchor="middle" transform="rotate(17.5 635.6 699)" >35 cm.</text>
<line x1="613.5" y1="697.3" x2="623" y2="694" stroke="#4a4a4a" stroke-width="0.6" />
<line x1="635.3" y1="714.3" x2="655" y2="708" stroke="#4a4a4a" stroke-width="0.6" />
<line x1="657.4" y1="718" x2="657.4" y2="733.5" stroke="#4a4a4a" stroke-width="0.6" />
<polygon points="657.4,718.0 658.4,723.0 656.4,723.0" fill="#000"/>
<polygon points="657.4,733.5 656.4,728.5 658.4,728.5" fill="#000"/>
<line x1="632" y1="722" x2="664" y2="715" stroke="#4a4a4a" stroke-width="0.6" />
<line x1="625" y1="743" x2="666.3" y2="732.5" stroke="#4a4a4a" stroke-width="0.6" />
<text x="660.5" y="726.8" font-size="10.4" text-anchor="start" transform="rotate(-9.5 660.5 726.8)" >15 cm.</text>
<line x1="507.7" y1="796" x2="632" y2="762" stroke="#4a4a4a" stroke-width="0.6" />
<polygon points="507.7,796.0 514.6,792.9 515.3,795.2" fill="#000"/>
<polygon points="632.0,762.0 625.1,765.1 624.4,762.8" fill="#000"/>
<text x="566.3" y="775.5" font-size="11.8" text-anchor="middle" transform="rotate(-15.3 566.3 775.5)" >Largo 85 cm.</text>
<line x1="500.4" y1="771.2" x2="507.7" y2="802.2" stroke="#4a4a4a" stroke-width="0.6" />
<line x1="621.8" y1="732.5" x2="633.2" y2="764.6" stroke="#4a4a4a" stroke-width="0.6" />
<line x1="391" y1="727" x2="452.8" y2="790.8" stroke="#4a4a4a" stroke-width="0.6" />
<polygon points="391.0,727.0 397.1,731.6 395.4,733.2" fill="#000"/>
<polygon points="452.8,790.8 446.7,786.2 448.4,784.6" fill="#000"/>
<text x="423.4" y="758.5" font-size="10.8" text-anchor="middle" transform="rotate(45.4 423.4 758.5)" dy="-2.2">Ancho 65 cm.</text>
<line x1="432" y1="800" x2="506.7" y2="779.4" stroke="#4a4a4a" stroke-width="0.6" />
<line x1="450" y1="779" x2="634" y2="779" stroke="#efefef" stroke-width="1" />
</g>
<text x="443" y="840.5" font-size="28.2" text-anchor="start" transform="rotate(0 443 840.5)" >Plegado</text>
</svg></body></html>
